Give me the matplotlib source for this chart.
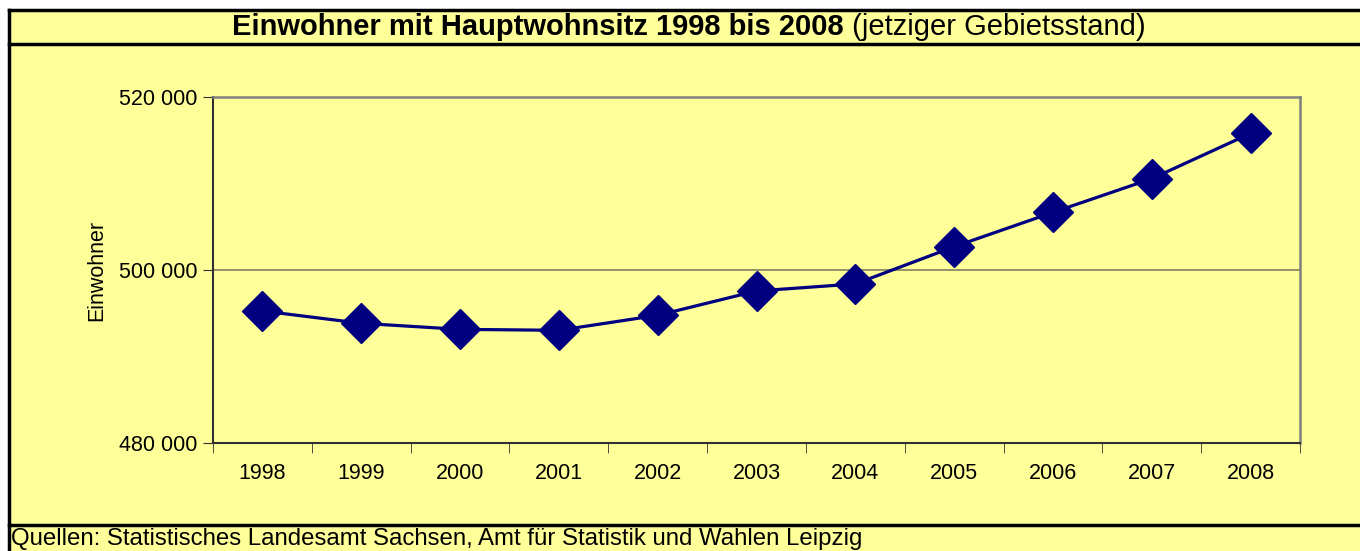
import matplotlib.pyplot as plt
from matplotlib.patches import Rectangle
from matplotlib.lines import Line2D

years = ["1998", "1999", "2000", "2001", "2002", "2003", "2004", "2005", "2006", "2007", "2008"]
einwohner = [495270, 493850, 493150, 493040, 494770, 497580, 498390, 502690, 506650, 510540, 515770]
y_ticks = [480000, 500000, 520000]

plt.rcParams["font.family"] = ["Liberation Sans", "DejaVu Sans"]

W, H = 1360, 551
fig = plt.figure(figsize=(W / 100, H / 100), dpi=100)
fig.patch.set_facecolor("white")

# yellow frame with black borders
fig.add_artist(Rectangle((9 / W, 0), 1, 1 - 10 / H, transform=fig.transFigure,
                         facecolor="#FFFF99", edgecolor="none", zorder=0))
lk = dict(transform=fig.transFigure, color="black", lw=2.5, zorder=1)
fig.add_artist(Line2D([9 / W, 1], [1 - 10 / H] * 2, **lk))
fig.add_artist(Line2D([9 / W, 9 / W], [0, 1 - 10 / H], **lk))
fig.add_artist(Line2D([9 / W, 1], [1 - 44 / H] * 2, **lk))
fig.add_artist(Line2D([9 / W, 1], [1 - 525 / H] * 2, **lk))

ax = fig.add_axes([213 / W, 1 - 443.3 / H, (1300 - 213) / W, (443.3 - 96.7) / H])
ax.set_facecolor("#FFFF99")

x = list(range(len(years)))
ax.plot(x, einwohner, color="#000080", lw=2.3, marker="D", markersize=20,
        markerfacecolor="#000080", markeredgecolor="#000080", clip_on=False, zorder=3)

ax.set_xlim(-0.5, len(years) - 0.5)
ax.set_ylim(480000, 520000)
ax.set_yticks(y_ticks)
ax.set_yticklabels([f"{v:,}".replace(",", " ") for v in y_ticks], fontsize=15.5)
ax.set_xticks(x)
ax.set_xticklabels(years, fontsize=15.5)
ax.tick_params(axis="x", length=0, pad=14)
ax.set_xticks([i - 0.5 for i in range(len(years) + 1)], minor=True)
ax.tick_params(axis="x", which="minor", length=7, direction="out", color="#303030")
ax.tick_params(axis="y", length=7, direction="out", color="#303030", pad=4)

ax.grid(axis="y", color="#808060", lw=1.2)
for s in ["top", "right"]:
    ax.spines[s].set_color("#808080")
    ax.spines[s].set_linewidth(1.8)
for s in ["left", "bottom"]:
    ax.spines[s].set_color("#303030")
    ax.spines[s].set_linewidth(1.5)

fig.text(97 / W, 1 - 270 / H, "Einwohner", rotation=90, fontsize=15.5, ha="center", va="center")

# title: bold part + regular part, centred together
fig.canvas.draw()
r = fig.canvas.get_renderer()
t1 = fig.text(0, 1 - 27 / H, "Einwohner mit Hauptwohnsitz 1998 bis 2008", fontsize=21,
              fontweight="bold", ha="left", va="center")
t2 = fig.text(0, 1 - 27 / H, " (jetziger Gebietsstand)", fontsize=21, ha="left", va="center")
w1 = t1.get_window_extent(r).width
w2 = t2.get_window_extent(r).width
x0 = 689 - (w1 + w2) / 2
t1.set_x(x0 / W)
t2.set_x((x0 + w1) / W)

fig.text(11 / W, 1 - 539 / H, "Quellen: Statistisches Landesamt Sachsen, Amt für Statistik und Wahlen Leipzig",
         fontsize=17.3, ha="left", va="center")

fig.savefig("out.png", dpi=100)
